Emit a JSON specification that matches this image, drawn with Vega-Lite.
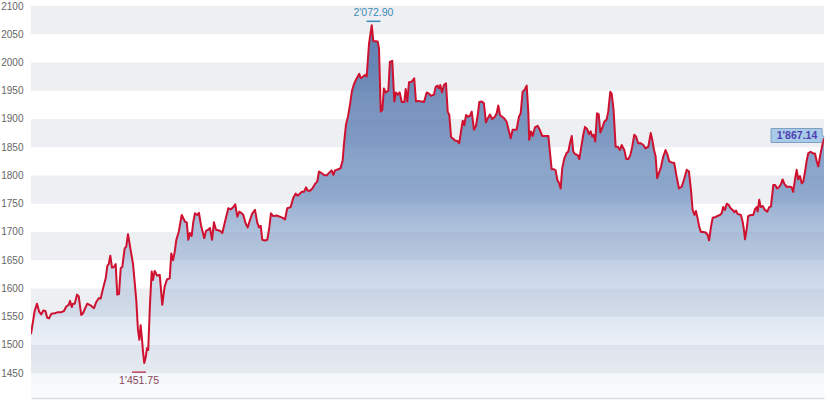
{
  "$schema": "https://vega.github.io/schema/vega-lite/v6.json",
  "width": 793,
  "height": 392,
  "autosize": {"type": "none"},
  "padding": {"left": 31, "top": 6, "right": 6, "bottom": 7},
  "background": "#ffffff",
  "config": {
    "view": {"stroke": null},
    "font": "Liberation Sans",
    "axis": {"labelBound": false}
  },
  "datasets": {
    "bands": [
      {"lo": 2050, "hi": 2100}, {"lo": 1950, "hi": 2000}, {"lo": 1850, "hi": 1900},
      {"lo": 1750, "hi": 1800}, {"lo": 1650, "hi": 1700}, {"lo": 1550, "hi": 1600}, {"lo": 1450, "hi": 1500}
    ],
    "series": [
      {"d":0,"v":1519},{"d":2.3,"v":1560},{"d":3.8,"v":1573},{"d":5.1,"v":1559},{"d":6.5,"v":1554},{"d":7.8,"v":1561},{"d":9.1,"v":1560},{"d":10.3,"v":1548},{"d":11.4,"v":1547},{"d":12.9,"v":1555},
      {"d":15.0,"v":1556},{"d":17.1,"v":1558},{"d":19.2,"v":1558},{"d":20.9,"v":1560},{"d":22.3,"v":1568},{"d":23.9,"v":1571},{"d":24.7,"v":1578},{"d":25.8,"v":1567},{"d":26.6,"v":1573},{"d":27.7,"v":1573},
      {"d":29.1,"v":1589},{"d":30.2,"v":1586},{"d":31.8,"v":1553},{"d":32.9,"v":1556},{"d":35.6,"v":1573},{"d":38.2,"v":1569},{"d":39.9,"v":1565},{"d":41.3,"v":1576},{"d":43.0,"v":1583},{"d":44.1,"v":1582},
      {"d":45.6,"v":1600},{"d":47.3,"v":1618},{"d":48.3,"v":1640},{"d":49.2,"v":1643},{"d":50.2,"v":1658},{"d":51.3,"v":1637},{"d":52.5,"v":1638},{"d":53.6,"v":1643},{"d":54.6,"v":1589},{"d":55.7,"v":1590},
      {"d":56.8,"v":1636},{"d":57.8,"v":1638},{"d":59.3,"v":1671},{"d":60.3,"v":1674},{"d":61.4,"v":1696},{"d":62.9,"v":1671},{"d":64.6,"v":1643},{"d":65.6,"v":1612},{"d":66.7,"v":1577},{"d":67.7,"v":1527},
      {"d":68.6,"v":1509},{"d":69.4,"v":1535},{"d":70.3,"v":1509},{"d":70.9,"v":1488},{"d":71.7,"v":1468},{"d":72.6,"v":1478},{"d":73.4,"v":1494},{"d":74.2,"v":1491},{"d":75.3,"v":1571},{"d":76.4,"v":1630},
      {"d":77.2,"v":1615},{"d":78.3,"v":1631},{"d":79.8,"v":1623},{"d":81.5,"v":1624},{"d":83.1,"v":1571},{"d":84.6,"v":1603},{"d":86.1,"v":1616},{"d":87.8,"v":1618},{"d":88.8,"v":1662},{"d":89.9,"v":1650},
      {"d":91.0,"v":1665},{"d":92.0,"v":1686},{"d":93.5,"v":1700},{"d":95.4,"v":1730},{"d":97.5,"v":1718},{"d":98.6,"v":1717},{"d":99.6,"v":1686},{"d":100.6,"v":1698},{"d":101.7,"v":1693},{"d":102.7,"v":1717},
      {"d":103.8,"v":1733},{"d":105.3,"v":1730},{"d":106.3,"v":1734},{"d":107.6,"v":1712},{"d":109.7,"v":1689},{"d":110.8,"v":1702},{"d":112.2,"v":1704},{"d":113.3,"v":1707},{"d":114.6,"v":1686},{"d":115.8,"v":1717},
      {"d":117.1,"v":1704},{"d":119.6,"v":1702},{"d":121.1,"v":1698},{"d":122.8,"v":1718},{"d":124.9,"v":1742},{"d":126.6,"v":1740},{"d":128.1,"v":1744},{"d":129.3,"v":1749},{"d":130.6,"v":1727},{"d":131.9,"v":1736},
      {"d":133.4,"v":1733},{"d":134.4,"v":1730},{"d":135.9,"v":1715},{"d":137.2,"v":1708},{"d":138.6,"v":1721},{"d":140.1,"v":1733},{"d":141.8,"v":1739},{"d":143.2,"v":1717},{"d":144.3,"v":1708},{"d":145.4,"v":1711},
      {"d":146.4,"v":1686},{"d":148.1,"v":1685},{"d":149.6,"v":1686},{"d":150.8,"v":1707},{"d":151.9,"v":1733},{"d":153.4,"v":1728},{"d":155.5,"v":1729},{"d":157.6,"v":1727},{"d":159.3,"v":1725},{"d":160.8,"v":1722},
      {"d":162.2,"v":1742},{"d":164.4,"v":1744},{"d":166.0,"v":1760},{"d":167.6,"v":1768},{"d":168.8,"v":1764},{"d":170.3,"v":1768},{"d":171.5,"v":1771},{"d":172.8,"v":1771},{"d":174.1,"v":1779},{"d":175.2,"v":1773},
      {"d":176.6,"v":1773},{"d":178.1,"v":1777},{"d":179.8,"v":1785},{"d":181.2,"v":1789},{"d":182.3,"v":1807},{"d":184.0,"v":1804},{"d":185.5,"v":1801},{"d":187.2,"v":1800},{"d":188.8,"v":1805},{"d":190.3,"v":1809},
      {"d":191.4,"v":1801},{"d":192.4,"v":1809},{"d":194.5,"v":1811},{"d":196.0,"v":1813},{"d":197.3,"v":1827},{"d":198.1,"v":1855},{"d":199.4,"v":1890},{"d":200.7,"v":1905},{"d":201.9,"v":1925},{"d":203.2,"v":1950},
      {"d":204.5,"v":1962},{"d":206.2,"v":1972},{"d":207.8,"v":1980},{"d":208.7,"v":1972},{"d":210.2,"v":1975},{"d":211.4,"v":1978},{"d":212.5,"v":1975},{"d":214.0,"v":2034},{"d":215.7,"v":2066},{"d":216.7,"v":2038},
      {"d":219.5,"v":2037},{"d":220.3,"v":2025},{"d":221.4,"v":1913},{"d":222.4,"v":1916},{"d":223.4,"v":1954},{"d":224.5,"v":1947},{"d":226.2,"v":1950},{"d":227.2,"v":2001},{"d":228.7,"v":2003},{"d":230.0,"v":1931},
      {"d":231.0,"v":1947},{"d":232.1,"v":1943},{"d":233.4,"v":1947},{"d":234.7,"v":1930},{"d":236.3,"v":1930},{"d":237.2,"v":1953},{"d":238.2,"v":1931},{"d":239.3,"v":1965},{"d":241.0,"v":1966},{"d":242.6,"v":1972},
      {"d":243.7,"v":1931},{"d":245.2,"v":1932},{"d":247.3,"v":1931},{"d":248.8,"v":1930},{"d":250.5,"v":1947},{"d":251.9,"v":1945},{"d":253.2,"v":1941},{"d":255.1,"v":1943},{"d":256.2,"v":1957},{"d":257.4,"v":1959},
      {"d":258.3,"v":1954},{"d":259.1,"v":1960},{"d":260.2,"v":1947},{"d":261.4,"v":1960},{"d":262.7,"v":1963},{"d":263.8,"v":1913},{"d":264.8,"v":1907},{"d":265.9,"v":1868},{"d":267.3,"v":1865},{"d":268.4,"v":1862},
      {"d":269.9,"v":1861},{"d":271.1,"v":1857},{"d":272.2,"v":1878},{"d":273.3,"v":1897},{"d":274.3,"v":1889},{"d":275.4,"v":1907},{"d":276.8,"v":1904},{"d":277.9,"v":1906},{"d":279.0,"v":1913},{"d":280.4,"v":1881},
      {"d":281.7,"v":1888},{"d":282.8,"v":1907},{"d":283.8,"v":1930},{"d":285.3,"v":1931},{"d":286.7,"v":1928},{"d":288.0,"v":1894},{"d":289.1,"v":1901},{"d":290.5,"v":1908},{"d":292.0,"v":1900},{"d":293.7,"v":1904},
      {"d":294.8,"v":1910},{"d":295.8,"v":1924},{"d":296.9,"v":1907},{"d":298.3,"v":1904},{"d":299.6,"v":1901},{"d":301.1,"v":1895},{"d":302.6,"v":1878},{"d":303.7,"v":1866},{"d":304.9,"v":1881},{"d":307.4,"v":1881},
      {"d":308.9,"v":1904},{"d":310.0,"v":1910},{"d":311.2,"v":1948},{"d":312.7,"v":1953},{"d":313.8,"v":1959},{"d":314.8,"v":1913},{"d":315.4,"v":1863},{"d":316.5,"v":1878},{"d":317.6,"v":1870},{"d":319.0,"v":1885},
      {"d":320.7,"v":1888},{"d":322.2,"v":1880},{"d":323.6,"v":1870},{"d":325.4,"v":1870},{"d":327.5,"v":1870},{"d":328.5,"v":1842},{"d":329.6,"v":1811},{"d":331.1,"v":1811},{"d":332.1,"v":1809},{"d":333.2,"v":1792},
      {"d":334.2,"v":1787},{"d":335.3,"v":1777},{"d":336.3,"v":1813},{"d":337.6,"v":1830},{"d":339.1,"v":1840},{"d":340.1,"v":1842},{"d":341.2,"v":1857},{"d":342.3,"v":1870},{"d":343.3,"v":1842},{"d":344.4,"v":1838},
      {"d":346.1,"v":1836},{"d":347.1,"v":1829},{"d":348.2,"v":1848},{"d":349.6,"v":1872},{"d":350.7,"v":1886},{"d":352.1,"v":1882},{"d":353.2,"v":1873},{"d":354.3,"v":1878},{"d":355.3,"v":1869},{"d":356.2,"v":1872},
      {"d":357.2,"v":1860},{"d":358.3,"v":1910},{"d":359.4,"v":1908},{"d":360.4,"v":1876},{"d":361.6,"v":1884},{"d":362.9,"v":1895},{"d":364.4,"v":1899},{"d":365.4,"v":1913},{"d":366.7,"v":1948},{"d":367.6,"v":1945},
      {"d":368.8,"v":1916},{"d":370.1,"v":1851},{"d":371.4,"v":1851},{"d":372.8,"v":1845},{"d":373.9,"v":1854},{"d":375.6,"v":1845},{"d":376.8,"v":1829},{"d":378.1,"v":1829},{"d":379.4,"v":1836},{"d":380.6,"v":1851},
      {"d":381.9,"v":1872},{"d":383.0,"v":1869},{"d":384.4,"v":1857},{"d":386.1,"v":1857},{"d":387.6,"v":1854},{"d":389.1,"v":1848},{"d":390.8,"v":1851},{"d":392.3,"v":1875},{"d":393.3,"v":1863},{"d":394.4,"v":1845},
      {"d":395.4,"v":1834},{"d":396.4,"v":1795},{"d":397.5,"v":1804},{"d":398.8,"v":1815},{"d":400.2,"v":1833},{"d":401.7,"v":1845},{"d":403.0,"v":1836},{"d":404.0,"v":1825},{"d":405.6,"v":1823},{"d":407.2,"v":1822},
      {"d":408.7,"v":1798},{"d":410.2,"v":1777},{"d":411.9,"v":1780},{"d":413.3,"v":1792},{"d":415.1,"v":1810},{"d":416.5,"v":1807},{"d":417.8,"v":1774},{"d":418.8,"v":1740},{"d":420.0,"v":1730},{"d":420.9,"v":1737},
      {"d":422.0,"v":1724},{"d":423.0,"v":1709},{"d":424.1,"v":1700},{"d":425.6,"v":1700},{"d":427.1,"v":1699},{"d":428.3,"v":1695},{"d":429.3,"v":1685},{"d":430.4,"v":1708},{"d":431.5,"v":1725},{"d":433.0,"v":1726},
      {"d":434.4,"v":1728},{"d":436.1,"v":1730},{"d":437.2,"v":1733},{"d":438.2,"v":1744},{"d":439.3,"v":1739},{"d":440.4,"v":1750},{"d":441.6,"v":1748},{"d":442.9,"v":1742},{"d":444.2,"v":1739},{"d":445.2,"v":1735},
      {"d":446.3,"v":1738},{"d":447.3,"v":1732},{"d":448.4,"v":1731},{"d":449.4,"v":1730},{"d":450.5,"v":1718},{"d":451.3,"v":1704},{"d":452.0,"v":1687},{"d":453.0,"v":1704},{"d":454.0,"v":1728},{"d":455.6,"v":1730},
      {"d":457.2,"v":1730},{"d":458.3,"v":1740},{"d":459.4,"v":1744},{"d":460.0,"v":1736},{"d":461.0,"v":1757},{"d":461.9,"v":1744},{"d":463.2,"v":1746},{"d":464.6,"v":1739},{"d":466.1,"v":1736},{"d":467.3,"v":1744},
      {"d":468.4,"v":1745},{"d":469.9,"v":1783},{"d":471.1,"v":1783},{"d":472.4,"v":1777},{"d":473.7,"v":1780},{"d":474.8,"v":1785},{"d":475.8,"v":1793},{"d":476.9,"v":1785},{"d":478.4,"v":1780},{"d":480.0,"v":1780},
      {"d":481.5,"v":1779},{"d":482.5,"v":1771},{"d":483.6,"v":1792},{"d":484.7,"v":1810},{"d":485.7,"v":1793},{"d":486.8,"v":1799},{"d":487.9,"v":1786},{"d":488.9,"v":1789},{"d":490.0,"v":1807},{"d":491.1,"v":1827},
      {"d":492.0,"v":1839},{"d":493.5,"v":1842},{"d":495.2,"v":1839},{"d":496.3,"v":1839},{"d":497.4,"v":1825},{"d":498.4,"v":1816},{"d":499.4,"v":1833},{"d":500.5,"v":1848},{"d":502.0,"v":1867.14}
    ],
    "marks": [
      {"d": 216.8, "v": 2072.90, "label": "2'072.90", "kind": "max"},
      {"d": 68.4, "v": 1451.75, "label": "1'451.75", "kind": "min"}
    ],
    "last": [{"d": 502.0, "v": 1867.14, "label": "1'867.14"}]
  },
  "layer": [
    {
      "data": {"name": "bands"},
      "mark": {"type": "rect", "color": "#eeeff2"},
      "encoding": {
        "y": {
          "field": "lo", "type": "quantitative",
          "scale": {"domain": [1406, 2100], "zero": false, "nice": false},
          "axis": {
            "values": [1450, 1500, 1550, 1600, 1650, 1700, 1750, 1800, 1850, 1900, 1950, 2000, 2050, 2100],
            "tickCount": 30,
            "format": "d", "title": null, "grid": false, "domain": false, "ticks": false, "tickSize": 0,
            "labelPadding": 8, "labelOverlap": false,
            "labelColor": "#666666", "labelFontSize": 10, "labelFont": "Liberation Sans"
          }
        },
        "y2": {"field": "hi"},
        "x": {"value": 0},
        "x2": {"value": 793}
      }
    },
    {
      "data": {"name": "series"},
      "mark": {
        "type": "area", "clip": true, "opacity": 1,
        "color": {
          "gradient": "linear", "x1": 0, "y1": 0, "x2": 0, "y2": 1,
          "stops": [
            {"offset": 0, "color": "rgba(70,106,162,0.88)"},
            {"offset": 0.45, "color": "rgba(105,139,188,0.72)"},
            {"offset": 1, "color": "rgba(200,215,235,0.1)"}
          ]
        }
      },
      "encoding": {
        "x": {"field": "d", "type": "quantitative", "scale": {"domain": [0, 502], "nice": false, "zero": false},
              "axis": {"title": null, "labels": false, "ticks": false, "grid": false, "domain": true, "domainColor": "#dddddd", "domainWidth": 1.5}},
        "y": {"field": "v", "type": "quantitative"},
        "y2": {"datum": 1406}
      }
    },
    {
      "data": {"name": "series"},
      "mark": {"type": "line", "color": "#cf1130", "strokeWidth": 2, "strokeJoin": "round", "clip": true},
      "encoding": {
        "x": {"field": "d", "type": "quantitative"},
        "y": {"field": "v", "type": "quantitative"}
      }
    },
    {
      "data": {"name": "marks"},
      "mark": {"type": "point", "shape": "stroke", "filled": false, "size": 196, "strokeWidth": 1.5, "opacity": 1},
      "encoding": {
        "x": {"field": "d", "type": "quantitative"},
        "y": {"field": "v", "type": "quantitative"},
        "color": {"field": "kind", "type": "nominal", "scale": {"domain": ["max", "min"], "range": ["#3d8cb8", "#c0405e"]}, "legend": null}
      }
    },
    {
      "data": {"name": "marks"},
      "transform": [{"filter": "datum.kind === 'max'"}],
      "mark": {"type": "text", "dy": -8, "fontSize": 10.5, "color": "#3d8cb8", "font": "Liberation Sans"},
      "encoding": {
        "x": {"field": "d", "type": "quantitative"},
        "y": {"field": "v", "type": "quantitative"},
        "text": {"field": "label"}
      }
    },
    {
      "data": {"name": "marks"},
      "transform": [{"filter": "datum.kind === 'min'"}],
      "mark": {"type": "text", "dy": 9, "fontSize": 10.5, "color": "#8a4458", "font": "Liberation Sans"},
      "encoding": {
        "x": {"field": "d", "type": "quantitative"},
        "y": {"field": "v", "type": "quantitative"},
        "text": {"field": "label"}
      }
    },
    {
      "data": {"name": "last"},
      "mark": {
        "type": "point", "filled": true, "size": 14400, "opacity": 1,
        "shape": "M -0.883 -0.15 L -0.033 -0.15 L -0.033 -0.05 L 0 0 L -0.033 0.033 L -0.033 0.083 L -0.883 0.083 Z",
        "fill": "#a8cbea", "stroke": "#7f9fc2", "strokeWidth": 1
      },
      "encoding": {
        "x": {"field": "d", "type": "quantitative"},
        "y": {"field": "v", "type": "quantitative"}
      }
    },
    {
      "data": {"name": "last"},
      "mark": {"type": "text", "dx": -27, "dy": -2, "fontSize": 10.5, "fontWeight": "bold", "color": "#4f3fb0", "font": "Liberation Sans"},
      "encoding": {
        "x": {"field": "d", "type": "quantitative"},
        "y": {"field": "v", "type": "quantitative"},
        "text": {"field": "label"}
      }
    }
  ]
}
